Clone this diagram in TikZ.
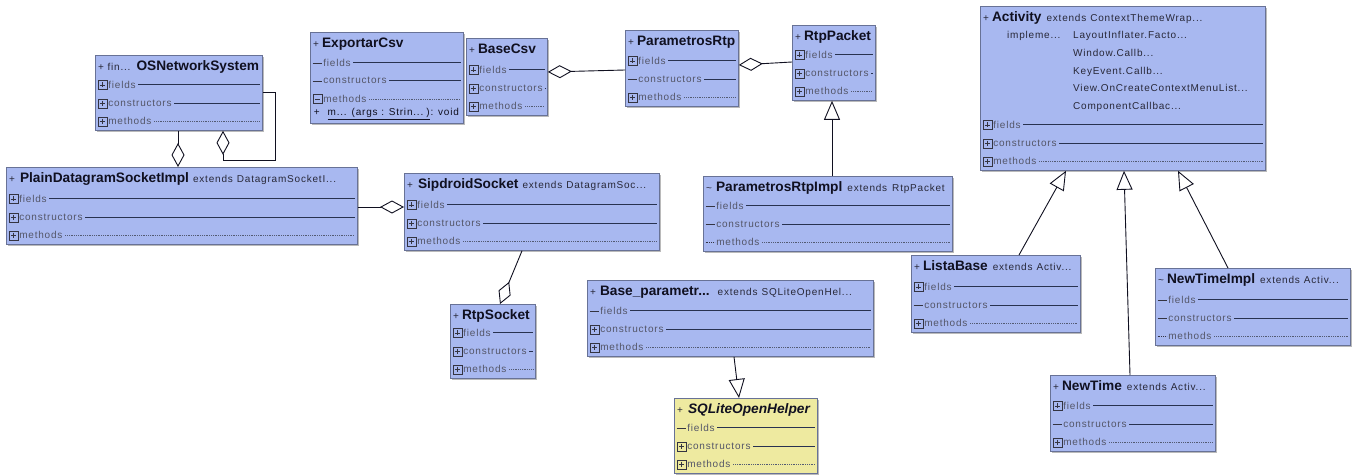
\documentclass[tikz,border=0pt]{standalone}
\usepackage{fontspec}
\setmainfont{Liberation Sans}
\newfontfamily\trackfont[LetterSpace=8]{Liberation Sans}
\usetikzlibrary{calc,arrows.meta,shadows}

\definecolor{clsblue}{RGB}{168,184,240}
\definecolor{clsyellow}{RGB}{238,234,160}
\definecolor{clsedge}{RGB}{104,114,150}
\definecolor{rowgray}{RGB}{84,86,104}
\definecolor{rulecol}{RGB}{40,50,80}
\definecolor{inkdark}{RGB}{16,16,32}
\definecolor{subink}{RGB}{40,40,56}

\newcommand\smallfont{\trackfont\fontsize{10}{12}\selectfont}

\tikzset{
  classbox/.style={draw=clsedge, line width=0.8pt, inner sep=0pt, anchor=north west,
    drop shadow={shadow xshift=1.2pt, shadow yshift=-1.2pt, fill=black!45, opacity=0.6}},
  rowtext/.style={font=\smallfont, text=rowgray, inner sep=0.6pt, anchor=west},
  hdrtext/.style={inner sep=0pt, anchor=base west, text=inkdark},
  smalltext/.style={inner sep=0pt, anchor=base west, text=subink, font=\smallfont},
  solidrule/.style={draw=rulecol, line width=0.7pt, shorten <=2pt, shorten >=3pt},
  dotrule/.style={draw=rulecol!80, line width=0.6pt, dash pattern=on 0.6pt off 1.2pt, shorten <=2pt, shorten >=3pt},
  iconline/.style={draw=inkdark!85, line width=0.6pt},
  pics/plusicon/.style={code={\draw[iconline] (-4.5,-4.5) rectangle (4.5,4.5);
      \draw[iconline] (-2.6,0) -- (2.6,0) (0,-2.6) -- (0,2.6);}},
  pics/minusicon/.style={code={\draw[iconline] (-4.5,-4.5) rectangle (4.5,4.5);
      \draw[iconline] (-2.6,0) -- (2.6,0);}},
  pics/dashicon/.style={code={\draw[iconline] (-5,0) -- (4,0);}},
  pics/doticon/.style={code={\draw[iconline, dash pattern=on 0.6pt off 1.2pt] (-5,0) -- (4,0);}},
  link/.style={draw=inkdark, line width=0.9pt},
  aggr/.style={link, -{Diamond[open, length=24pt, width=13pt, line width=0.9pt]}},
  inherit/.style={link, -{Triangle[open, length=19pt, width=16pt, line width=0.9pt]}},
}

% box: name, x, y, width, height, fill
\newcommand\umlclass[6]{%
  \node[classbox, fill=#6, minimum width=#4pt, minimum height=#5pt] (#1) at (#2,#3) {};}
% header line: box, prefix, class name, suffix
\newcommand\umlhead[4]{%
  \node[hdrtext] (#1h) at ($(#1.north west)+(3,15)$)
    {{\smallfont\color{subink}#2}{\fontsize{13.7}{16}\selectfont\bfseries #3}{\smallfont\color{subink}#4}};}
% compartment row: box, key, distance above bottom, icon, label, rule style
\newcommand\umlrow[6]{%
  \pic at ($(#1.south west)+(7.5,-#3)$) {#4};
  \node[rowtext] (#1#2) at ($(#1.south west)+(12.5,-#3)$) {#5};
  \draw[#6] (#1#2.east) -- (#1#2.east -| #1.east);}
% the usual three compartments
\newcommand\umlrows[4]{%
  \umlrow{#1}{f}{46}{#2}{fields}{solidrule}
  \umlrow{#1}{c}{27.5}{#3}{constructors}{solidrule}
  \umlrow{#1}{m}{9.5}{#4}{methods}{dotrule}}

\begin{document}
\begin{tikzpicture}[x=1pt, y=-1pt]
\fill[white] (0,0) rectangle (1352,474);
\useasboundingbox (0,0) rectangle (1352,474);

% ---- classes ----
\umlclass{osnet}{95}{55}{167}{75}{clsblue}
\umlhead{osnet}{+ fin...\hspace{6pt}}{OSNetworkSystem}{}
\umlrows{osnet}{plusicon}{plusicon}{plusicon}

\umlclass{plain}{6}{167}{351}{77}{clsblue}
\umlhead{plain}{+\hspace{5pt}}{PlainDatagramSocketImpl}{\hspace{4pt}extends\hspace{4pt}DatagramSocketI...}
\umlrows{plain}{plusicon}{plusicon}{plusicon}

\umlclass{exportar}{310}{32}{153}{91}{clsblue}
\umlhead{exportar}{+\hspace{3pt}}{ExportarCsv}{}
\umlrow{exportar}{f}{61}{dashicon}{fields}{solidrule}
\umlrow{exportar}{c}{43}{dashicon}{constructors}{solidrule}
\umlrow{exportar}{m}{25}{minusicon}{methods}{dotrule}
\node[rowtext, text=inkdark] (exportarop) at ($(exportar.south west)+(3,-10)$)
  {+\hspace{8pt}\underline{m...\hspace{5pt}(args : Strin...\hspace{3pt})}\hspace{1pt}: void};

\umlclass{basecsv}{466}{38}{81}{77}{clsblue}
\umlhead{basecsv}{+\hspace{3pt}}{BaseCsv}{}
\umlrows{basecsv}{plusicon}{plusicon}{plusicon}

\umlclass{paramrtp}{625}{30}{113}{76}{clsblue}
\umlhead{paramrtp}{+\hspace{3pt}}{ParametrosRtp}{}
\umlrows{paramrtp}{plusicon}{dashicon}{plusicon}

\umlclass{rtppacket}{792}{25}{83}{75}{clsblue}
\umlhead{rtppacket}{+\hspace{3pt}}{RtpPacket}{}
\umlrows{rtppacket}{plusicon}{plusicon}{plusicon}

\umlclass{paramimpl}{703}{176}{249}{75}{clsblue}
\umlhead{paramimpl}{\textasciitilde\hspace{4pt}}{ParametrosRtpImpl}{\hspace{5pt}extends\hspace{5pt}RtpPacket}
\umlrows{paramimpl}{dashicon}{dashicon}{doticon}

\umlclass{activity}{980}{6}{285}{164}{clsblue}
\umlhead{activity}{+\hspace{3pt}}{Activity}{\hspace{5pt}extends\hspace{4pt}ContextThemeWrap...}
\node[smalltext] (activityimpl) at ($(activity.north west)+(27,32.5)$) {impleme...};
\node[smalltext] (activityi1) at ($(activity.north west)+(93,32.5)$) {LayoutInflater.Facto...};
\node[smalltext] (activityi2) at ($(activity.north west)+(93,50.2)$) {Window.Callb...};
\node[smalltext] (activityi3) at ($(activity.north west)+(93,68)$) {KeyEvent.Callb...};
\node[smalltext] (activityi4) at ($(activity.north west)+(93,85.7)$) {View.OnCreateContextMenuList...};
\node[smalltext] (activityi5) at ($(activity.north west)+(93,103.5)$) {ComponentCallbac...};
\umlrows{activity}{plusicon}{plusicon}{plusicon}

\umlclass{sipdroid}{404}{173}{255}{77}{clsblue}
\umlhead{sipdroid}{+\hspace{5pt}}{SipdroidSocket}{\hspace{4pt}extends\hspace{4pt}DatagramSoc...}
\umlrows{sipdroid}{plusicon}{plusicon}{plusicon}

\umlclass{rtpsocket}{450}{304}{85}{74}{clsblue}
\umlhead{rtpsocket}{+\hspace{3pt}}{RtpSocket}{}
\umlrows{rtpsocket}{plusicon}{plusicon}{plusicon}

\umlclass{baseparam}{587}{280}{286}{76}{clsblue}
\umlhead{baseparam}{+\hspace{4pt}}{Base\_parametr...}{\hspace{8pt}extends\hspace{4pt}SQLiteOpenHel...}
\umlrows{baseparam}{dashicon}{plusicon}{plusicon}

\umlclass{sqlite}{674}{398}{143}{75}{clsyellow}
\umlhead{sqlite}{+\hspace{5pt}}{\itshape SQLiteOpenHelper}{}
\umlrows{sqlite}{dashicon}{plusicon}{plusicon}

\umlclass{listabase}{911}{255}{169}{77}{clsblue}
\umlhead{listabase}{+\hspace{3pt}}{ListaBase}{\hspace{5pt}extends\hspace{4pt}Activ...}
\umlrows{listabase}{plusicon}{dashicon}{plusicon}

\umlclass{newtimeimpl}{1155}{268}{195}{77}{clsblue}
\umlhead{newtimeimpl}{\textasciitilde\hspace{3pt}}{NewTimeImpl}{\hspace{5pt}extends\hspace{4pt}Activ...}
\umlrows{newtimeimpl}{dashicon}{dashicon}{doticon}

\umlclass{newtime}{1050}{375}{165}{76}{clsblue}
\umlhead{newtime}{+\hspace{3pt}}{NewTime}{\hspace{5pt}extends\hspace{4pt}Activ...}
\umlrows{newtime}{plusicon}{dashicon}{plusicon}

% ---- aggregations ----
\draw[aggr] ($(osnet.south west)+(83,0)$) -- ($(plain.north west)+(172,0)$);
\draw[aggr] ($(osnet.north east)+(0,37)$) -- ++(13,0) |- ($(osnet.south west)+(128,30)$)
  -- ($(osnet.south west)+(128,0)$);
\draw[aggr] ($(plain.north east)+(0,40)$) -- ($(sipdroid.north west)+(0,34)$);
\draw[aggr] ($(sipdroid.south west)+(118,0)$) -- ($(rtpsocket.north west)+(50,0)$);
\draw[aggr] ($(paramrtp.north west)+(0,40)$) -- ($(basecsv.north east)+(0,34)$);
\draw[aggr] ($(rtppacket.north west)+(0,37)$) -- ($(paramrtp.north east)+(0,35)$);

% ---- generalizations ----
\draw[inherit] ($(paramimpl.north west)+(129,0)$) -- ($(rtppacket.south west)+(40,0)$);
\draw[inherit] ($(baseparam.south west)+(147,0)$) -- ($(sqlite.north west)+(65,0)$);
\draw[inherit] ($(listabase.north west)+(108,0)$) -- ($(activity.south west)+(86,0)$);
\draw[inherit] ($(newtime.north west)+(80,0)$) -- ($(activity.south west)+(144,0)$);
\draw[inherit] ($(newtimeimpl.north west)+(73,0)$) -- ($(activity.south west)+(198,0)$);
\end{tikzpicture}
\end{document}
